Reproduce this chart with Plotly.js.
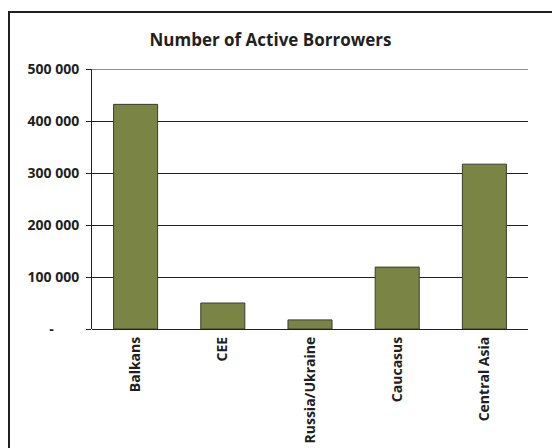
<!DOCTYPE html>
<html>
<head>
<meta charset="utf-8">
<script src="https://cdn.plot.ly/plotly-3.0.1.min.js"></script>
<style>
html,body{margin:0;padding:0;background:#fff;overflow:hidden;}
#wrap{position:relative;width:552px;height:448px;overflow:hidden;}
#chart{position:absolute;left:0;top:0;width:552px;height:448px;}
#frame{position:absolute;left:8px;top:11px;width:600px;height:500px;border-top:2px solid #231f20;border-left:2px solid #231f20;pointer-events:none;}
</style>
</head>
<body>
<div id="wrap"><div id="chart"></div><div id="frame"></div></div>
<script>
var categories = ["Balkans", "CEE", "Russia/Ukraine", "Caucasus", "Central Asia"];
var borrowers = [432000, 50000, 17500, 119000, 317000];
var tickValues = [0, 100000, 200000, 300000, 400000, 500000];
var tickLabels = ["-\u00a0\u00a0\u00a0\u00a0\u00a0\u00a0\u00a0", "100 000", "200 000", "300 000", "400 000", "500 000"];
var axisMax = 500000;

var fontFam = "'Open Sans', sans-serif";

var trace = {
  type: "bar",
  x: categories,
  y: borrowers,
  marker: {color: "#7a8445", line: {color: "#3b3d2a", width: 1}},
  hoverinfo: "x+y"
};

var layout = {
  width: 552, height: 448,
  margin: {l: 92, r: 24, t: 69, b: 119},
  paper_bgcolor: "#fff", plot_bgcolor: "#fff",
  showlegend: false,
  bargap: 0.495,
  title: {text: "<b>Number of Active Borrowers</b>", x: 0.49, xanchor: "center", y: 0.91, yanchor: "middle",
          font: {family: fontFam, size: 17, color: "#231f20"}},
  xaxis: {
    type: "category",
    tickangle: -90,
    tickfont: {family: fontFam, size: 14, color: "#231f20", weight: 700},
    showline: false, showgrid: false, zeroline: false,
    ticks: "", ticklabelstandoff: 4
  },
  yaxis: {
    range: [0, axisMax],
    tickvals: tickValues, ticktext: tickLabels,
    tickfont: {family: fontFam, size: 14, color: "#231f20", weight: 700},
    showline: true, linecolor: "#231f20", linewidth: 1,
    showgrid: true, gridcolor: "#231f20", gridwidth: 1,
    zeroline: true, zerolinecolor: "#231f20", zerolinewidth: 1,
    ticks: "outside", ticklen: 5, tickcolor: "#231f20", tickwidth: 1,
    ticklabelstandoff: 4
  },
  shapes: [
    {type: "line", xref: "paper", yref: "y", x0: 0, x1: 1, y0: axisMax, y1: axisMax,
     line: {color: "#231f20", width: 1}}
  ]
};

Plotly.newPlot("chart", [trace], layout, {displayModeBar: false, staticPlot: true});
</script>
</body>
</html>
